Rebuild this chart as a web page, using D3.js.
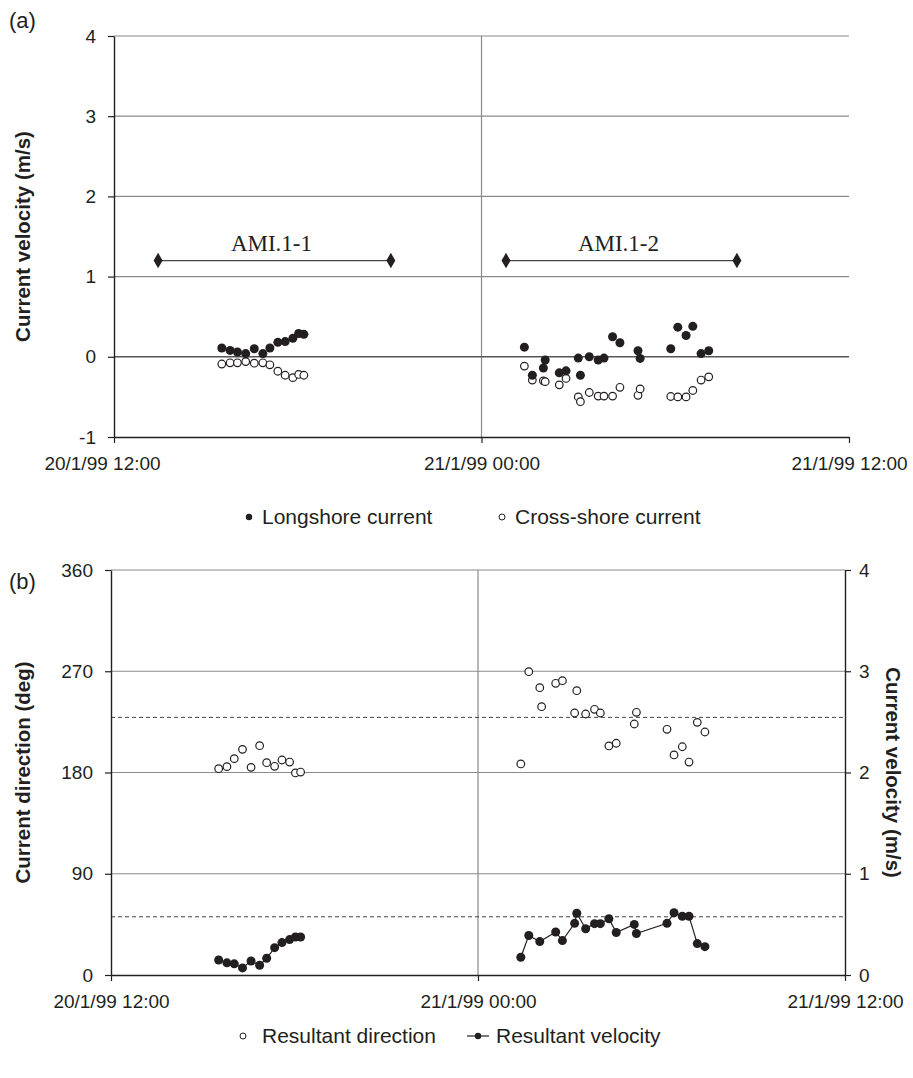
<!DOCTYPE html>
<html>
<head>
<meta charset="utf-8">
<script src="https://cdn.jsdelivr.net/npm/d3@7"></script>
<style>
body{margin:0;background:#fff;}
svg text{font-family:"Liberation Sans",Arial,sans-serif;fill:#231f20;}
</style>
</head>
<body>
<script>
"use strict";

///////////
///// data  (time = hours after 20/1/99 12:00)
////////////

var xTicks = [0, 12, 24];
var xLabels = ["20/1/99 12:00", "21/1/99 00:00", "21/1/99 12:00"];

var timeA = [3.52,3.79,4.03,4.30,4.58,4.86,5.09,5.35,5.59,5.84,6.03,6.20,
  13.40,13.66,14.02,14.08,14.54,14.76,15.16,15.23,15.52,15.81,16.00,16.28,16.52,17.11,17.18,18.18,18.41,18.68,18.90,19.17,19.42];

var longshore = [0.11,0.08,0.06,0.04,0.10,0.04,0.11,0.18,0.19,0.23,0.29,0.28,
  0.12,-0.23,-0.14,-0.04,-0.20,-0.175,-0.016,-0.23,0.0,-0.04,-0.016,0.25,0.175,0.075,-0.02,0.10,0.37,0.265,0.38,0.04,0.075];

var crossshore = [-0.09,-0.075,-0.075,-0.06,-0.08,-0.075,-0.10,-0.18,-0.23,-0.26,-0.22,-0.23,
  -0.116,-0.29,-0.30,-0.31,-0.35,-0.27,-0.50,-0.56,-0.445,-0.49,-0.49,-0.49,-0.38,-0.48,-0.40,-0.495,-0.50,-0.50,-0.42,-0.29,-0.25];

var burstNames = ["AMI.1-1", "AMI.1-2"];
var burstStart = [1.44, 12.80];
var burstEnd = [9.04, 20.34];
var burstLevel = 1.2;

var direction = [183.4,185.2,192.3,200.6,184.6,203.8,188.7,185.5,191.1,189.3,179.6,180.4,
  187.6,269.6,255.4,238.5,259.3,261.6,232.9,252.7,232.0,236.2,232.9,203.6,206.0,223.1,233.5,218.4,195.6,202.9,189.3,224.6,216.0];

var timeV = [3.52,3.79,4.03,4.30,4.58,4.86,5.09,5.35,5.59,5.84,6.03,6.20,
  13.40,13.66,14.02,14.54,14.76,15.16,15.23,15.52,15.81,16.00,16.28,16.52,17.11,17.18,18.18,18.41,18.68,18.90,19.17,19.42];
var velocity = [0.148,0.12,0.11,0.07,0.138,0.096,0.165,0.27,0.32,0.35,0.375,0.375,
  0.175,0.39,0.33,0.425,0.34,0.51,0.61,0.457,0.507,0.507,0.556,0.42,0.50,0.41,0.51,0.615,0.58,0.58,0.31,0.28];

var dirRef = 229;    // dashed line, deg
var velRef = 0.575;  // dashed line, m/s

var yTicksA = [-1,0,1,2,3,4];
var yTicksDir = [0,90,180,270,360];
var yTicksVel = [0,1,2,3,4];

var width = 913, height = 1078;
var grid = "#8a8a8a", ink = "#231f20";
var tickFont = "19px", legFont = "21px", titleFont = "20.5px";

var svg = d3.select("body").append("svg")
    .attr("width", width)
    .attr("height", height);

/////////// panel (a)

var xa = d3.scaleLinear().domain([0, 24]).range([114, 849]);
var ya = d3.scaleLinear().domain([-1, 4]).range([437, 36]);

svg.append("text").attr("x", 9).attr("y", 28).style("font-size", "22px").text("(a)");

var ga = svg.append("g");

// gridlines
ga.selectAll(".hg").data(yTicksA.filter(d => d > 0)).enter().append("line")
  .attr("x1", xa(0)).attr("x2", xa(24))
  .attr("y1", d => ya(d)).attr("y2", d => ya(d))
  .attr("stroke", grid).attr("stroke-width", 1.2);
ga.append("line").attr("x1", xa(12)).attr("x2", xa(12)).attr("y1", ya(4)).attr("y2", ya(-1))
  .attr("stroke", grid).attr("stroke-width", 1.2);
ga.append("line").attr("x1", xa(0)).attr("x2", xa(24)).attr("y1", ya(0)).attr("y2", ya(0))
  .attr("stroke", "#555").attr("stroke-width", 1.4);

ga.append("g").attr("transform", "translate(" + xa(0) + ",0)")
  .call(d3.axisLeft(ya).tickValues(yTicksA).tickFormat(d => String(d)).tickSize(6).tickSizeOuter(0).tickPadding(12));
ga.append("g").attr("class", "xax").attr("transform", "translate(0," + ya(-1) + ")")
  .call(d3.axisBottom(xa).tickValues(xTicks).tickFormat((d, i) => xLabels[i]).tickSize(6).tickSizeOuter(0).tickPadding(14));

// AMI bursts
burstNames.forEach((n, i) => {
  ga.append("line").attr("x1", xa(burstStart[i])).attr("x2", xa(burstEnd[i]))
    .attr("y1", ya(burstLevel)).attr("y2", ya(burstLevel))
    .attr("stroke", "#444").attr("stroke-width", 1.2);
  [burstStart[i], burstEnd[i]].forEach(t => {
    ga.append("path").attr("d", d3.symbol(d3.symbolDiamond, 70)())
      .attr("transform", "translate(" + xa(t) + "," + ya(burstLevel) + ")")
      .attr("fill", ink);
  });
  ga.append("text").attr("x", xa((burstStart[i] + burstEnd[i]) / 2) - 3).attr("y", ya(burstLevel) - 10)
    .attr("text-anchor", "middle")
    .style("font-family", "'Liberation Serif','Times New Roman',serif").style("font-size", "23px")
    .text(n);
});

ga.selectAll(".cs").data(timeA).enter().append("circle")
  .attr("cx", d => xa(d)).attr("cy", (d, i) => ya(crossshore[i])).attr("r", 3.8)
  .attr("fill", "#fff").attr("stroke", ink).attr("stroke-width", 1.2);
ga.selectAll(".ls").data(timeA).enter().append("circle")
  .attr("cx", d => xa(d)).attr("cy", (d, i) => ya(longshore[i])).attr("r", 4.5)
  .attr("fill", ink);

svg.append("text")
  .attr("transform", "translate(30," + (ya(4) + ya(-1)) / 2 + ") rotate(-90)")
  .attr("text-anchor", "middle").style("font-size", titleFont).style("font-weight", "bold")
  .text("Current velocity (m/s)");

// legend a
svg.append("circle").attr("cx", 249).attr("cy", 517).attr("r", 3.2).attr("fill", ink);
svg.append("text").attr("x", 262).attr("y", 524).style("font-size", legFont).text("Longshore current");
svg.append("circle").attr("cx", 502).attr("cy", 517).attr("r", 3).attr("fill", "#fff").attr("stroke", ink).attr("stroke-width", 1);
svg.append("text").attr("x", 515).attr("y", 524).style("font-size", legFont).text("Cross-shore current");

/////////// panel (b)

var xb = d3.scaleLinear().domain([0, 24]).range([111, 845]);
var yd = d3.scaleLinear().domain([0, 360]).range([975, 570]);
var yv = d3.scaleLinear().domain([0, 4]).range([975, 570]);

svg.append("text").attr("x", 9).attr("y", 589).style("font-size", "22px").text("(b)");

var gb = svg.append("g");

gb.selectAll(".hg").data(yTicksDir.filter(d => d > 0)).enter().append("line")
  .attr("x1", xb(0)).attr("x2", xb(24))
  .attr("y1", d => yd(d)).attr("y2", d => yd(d))
  .attr("stroke", grid).attr("stroke-width", 1.2);
gb.append("line").attr("x1", xb(12)).attr("x2", xb(12)).attr("y1", yd(360)).attr("y2", yd(0))
  .attr("stroke", grid).attr("stroke-width", 1.2);

gb.append("line").attr("x1", xb(0)).attr("x2", xb(24)).attr("y1", yd(dirRef)).attr("y2", yd(dirRef))
  .attr("stroke", "#444").attr("stroke-width", 1).attr("stroke-dasharray", "4,3");
gb.append("line").attr("x1", xb(0)).attr("x2", xb(24)).attr("y1", yv(velRef)).attr("y2", yv(velRef))
  .attr("stroke", "#444").attr("stroke-width", 1).attr("stroke-dasharray", "4,3");

gb.append("g").attr("transform", "translate(" + xb(0) + ",0)")
  .call(d3.axisLeft(yd).tickValues(yTicksDir).tickFormat(d => String(d)).tickSize(6).tickSizeOuter(0).tickPadding(12));
gb.append("g").attr("transform", "translate(" + xb(24) + ",0)")
  .call(d3.axisRight(yv).tickValues(yTicksVel).tickFormat(d => String(d)).tickSize(6).tickSizeOuter(0).tickPadding(8));
gb.append("g").attr("class", "xax").attr("transform", "translate(0," + yd(0) + ")")
  .call(d3.axisBottom(xb).tickValues(xTicks).tickFormat((d, i) => xLabels[i]).tickSize(6).tickSizeOuter(0).tickPadding(14));

gb.selectAll(".dir").data(timeA).enter().append("circle")
  .attr("cx", d => xb(d)).attr("cy", (d, i) => yd(direction[i])).attr("r", 3.8)
  .attr("fill", "#fff").attr("stroke", ink).attr("stroke-width", 1.2);

// velocity line, broken between the two bursts
var velPts = timeV.map((t, i) => [t, velocity[i]]);
var segs = [velPts.filter(d => d[0] < 12), velPts.filter(d => d[0] >= 12)];
var vline = d3.line().x(d => xb(d[0])).y(d => yv(d[1]));
segs.forEach(s => {
  gb.append("path").attr("d", vline(s)).attr("fill", "none").attr("stroke", ink).attr("stroke-width", 1.2);
});
gb.selectAll(".vel").data(velPts).enter().append("circle")
  .attr("cx", d => xb(d[0])).attr("cy", d => yv(d[1])).attr("r", 4.5)
  .attr("fill", ink);

svg.append("text")
  .attr("transform", "translate(30," + (yd(0) + yd(360)) / 2 + ") rotate(-90)")
  .attr("text-anchor", "middle").style("font-size", titleFont).style("font-weight", "bold")
  .text("Current direction (deg)");
svg.append("text")
  .attr("transform", "translate(886," + (yd(0) + yd(360)) / 2 + ") rotate(90)")
  .attr("text-anchor", "middle").style("font-size", titleFont).style("font-weight", "bold")
  .text("Current velocity (m/s)");

// legend b
svg.append("circle").attr("cx", 243).attr("cy", 1036).attr("r", 3).attr("fill", "#fff").attr("stroke", ink).attr("stroke-width", 1);
svg.append("text").attr("x", 262).attr("y", 1043).style("font-size", legFont).text("Resultant direction");
svg.append("line").attr("x1", 467).attr("x2", 489).attr("y1", 1036).attr("y2", 1036).attr("stroke", ink).attr("stroke-width", 1.2);
svg.append("circle").attr("cx", 478).attr("cy", 1036).attr("r", 3.2).attr("fill", ink);
svg.append("text").attr("x", 496).attr("y", 1043).style("font-size", legFont).text("Resultant velocity");

// axis styling
svg.selectAll(".domain").attr("stroke", ink).attr("stroke-width", 1.4);
svg.selectAll(".tick line").attr("stroke", ink).attr("stroke-width", 1.2);
svg.selectAll(".tick text").style("font-size", tickFont).attr("fill", ink)
  .style("font-family", "'Liberation Sans',Arial,sans-serif");
// first date label sits a little left of its tick in the original
svg.selectAll(".xax .tick text").attr("dx", (d, i) => i === 0 ? -12 : 0);

</script>
</body>
</html>
